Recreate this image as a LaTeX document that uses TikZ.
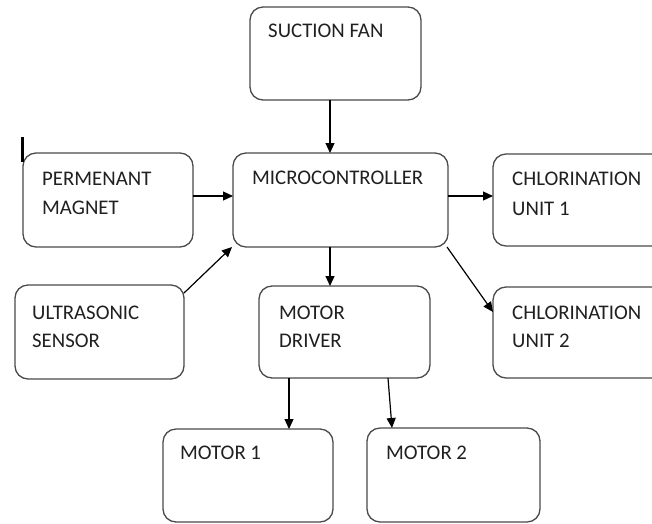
\documentclass[tikz,border=0pt]{standalone}
\usepackage{fontspec}
\setmainfont{Carlito}
\usetikzlibrary{arrows.meta,calc}
\definecolor{boxline}{HTML}{4A4A4A}
\definecolor{txt}{HTML}{202020}
\tikzset{
  box/.style={draw=boxline, line width=1.3pt, rounded corners=13pt, fill=white,
    anchor=north west, inner sep=0pt, outer sep=0pt},
  lbl/.style={anchor=base west, inner sep=0pt, text=txt, font=\fontsize{20.8}{25}\selectfont},
  conn/.style={draw=black, line width=1.2pt, -{Triangle[length=10pt,width=9pt]}}
}
\begin{document}
\begin{tikzpicture}[x=1pt,y=1pt]
\useasboundingbox (0,0) rectangle (652,-523);
\clip (0,0) rectangle (652,-523);
% boxes
\node[box, minimum width=171pt, minimum height=93pt] (fan) at (250,-7) {};
\node[box, minimum width=215pt, minimum height=94pt] (micro) at (233,-153) {};
\node[box, minimum width=170pt, minimum height=94pt] (magnet) at (23,-153) {};
\node[box, minimum width=169pt, minimum height=94pt] (ultra) at (15,-285) {};
\node[box, minimum width=175pt, minimum height=92pt] (chl1) at (493,-154) {};
\node[box, minimum width=175pt, minimum height=91pt] (chl2) at (493,-287) {};
\node[box, minimum width=171pt, minimum height=92pt] (driver) at (259,-286) {};
\node[box, minimum width=170pt, minimum height=93pt] (motor1) at (163,-429) {};
\node[box, minimum width=173pt, minimum height=94pt] (motor2) at (367,-428) {};
% stray mark
\coordinate (markA) at (22.5,-137);
\coordinate (markB) at (22.5,-162);
\draw[line width=2.4pt, black] (markA) -- (markB);
% labels
\node[lbl] (tfan) at (268,-37) {SUCTION FAN};
\node[lbl] (tmicro) at (252,-184) {MICROCONTROLLER};
\node[lbl] (tmag1) at (42,-185) {PERMENANT};
\node[lbl] (tmag2) at (42,-214) {MAGNET};
\node[lbl] (tult1) at (32,-319) {ULTRASONIC};
\node[lbl] (tult2) at (32,-347) {SENSOR};
\node[lbl] (tchl1a) at (512,-185) {CHLORINATION};
\node[lbl] (tchl1b) at (512,-215) {UNIT 1};
\node[lbl] (tchl2a) at (512,-319) {CHLORINATION};
\node[lbl] (tchl2b) at (512,-347) {UNIT 2};
\node[lbl] (tdrv1) at (279,-319) {MOTOR};
\node[lbl] (tdrv2) at (279,-347) {DRIVER};
\node[lbl] (tm1) at (180,-459) {MOTOR 1};
\node[lbl] (tm2) at (386,-459) {MOTOR 2};
% connectors
\draw[conn] ($(fan.south west)+(80,0)$) -- ($(micro.north west)+(97,0)$);
\draw[conn] ($(micro.south west)+(97,0)$) -- ($(driver.north west)+(71,0)$);
\draw[conn] ($(magnet.north east)+(0,-43)$) -- ($(micro.north west)+(0,-43)$);
\draw[conn] ($(ultra.north east)+(0,-8)$) -- ($(micro.south west)+(-1,0)$);
\draw[conn] ($(micro.north east)+(0,-43)$) -- ($(chl1.north west)+(0,-42)$);
\draw[conn] ($(micro.south east)+(-1,0)$) -- ($(chl2.north west)+(0,-25)$);
\draw[conn] ($(driver.south west)+(30,0)$) -- ($(motor1.north west)+(126,0)$);
\draw[conn] ($(driver.south west)+(129,0)$) -- ($(motor2.north west)+(25,0)$);
\end{tikzpicture}
\end{document}
